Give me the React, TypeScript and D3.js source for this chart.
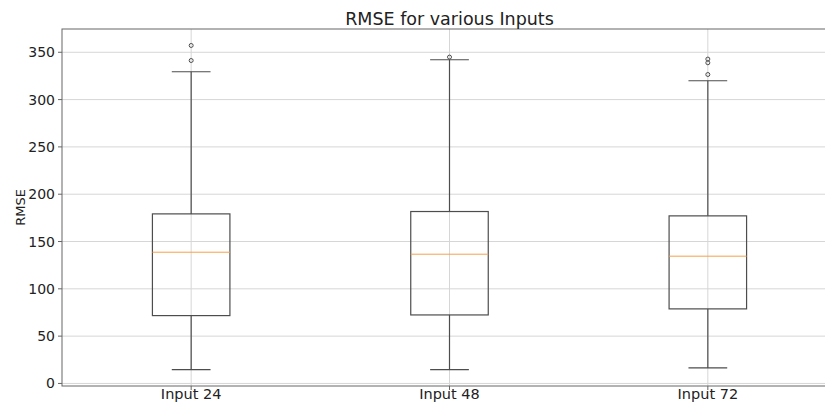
import React from "react";
import * as d3 from "d3";

// box statistics
const categories = ["Input 24", "Input 48", "Input 72"];
const whiskerLow = [14.6, 14.6, 16.4];
const q1 = [71.7, 72.4, 78.8];
const medians = [138.7, 136.6, 134.5];
const q3 = [179.2, 181.7, 177.1];
const whiskerHigh = [329.4, 342.1, 319.9];
const outliers = [[357.2, 341.3], [344.9], [342.8, 338.9, 326.5]];
const yTicks = [0, 50, 100, 150, 200, 250, 300, 350];

const width = 825;
const height = 405;
const margin = { top: 29, right: -12, bottom: 19, left: 62 };

const font = "DejaVu Sans, sans-serif";
const boxColor = "#4d4d4d";
const gridColor = "#d6d6d6";

const App = () => {
  const x = d3
    .scaleLinear()
    .domain([0.5, 3.5])
    .range([margin.left, width - margin.right]);
  const y = d3
    .scaleLinear()
    .domain([-2.7, 374.6])
    .range([height - margin.bottom, margin.top]);

  const boxW = x(1.3) - x(1);
  const capW = boxW / 2;
  const plotBottom = height - margin.bottom;
  const plotRight = width - margin.right;

  return (
    <svg
      width={width}
      height={height}
      style={{ position: "absolute", left: 0, top: 0, background: "#fff" }}
      fontFamily={font}
    >
      {/* grid */}
      <g stroke={gridColor} strokeWidth={1}>
        {yTicks.map((t) => (
          <line key={t} x1={margin.left} x2={plotRight} y1={y(t)} y2={y(t)} />
        ))}
        {categories.map((c, i) => (
          <line key={c} x1={x(i + 1)} x2={x(i + 1)} y1={margin.top} y2={plotBottom} />
        ))}
      </g>

      {/* boxes */}
      {categories.map((c, i) => {
        const cx = x(i + 1);
        return (
          <g key={c} stroke={boxColor} strokeWidth={1.2} fill="none">
            <rect x={cx - boxW / 2} y={y(q3[i])} width={boxW} height={y(q1[i]) - y(q3[i])} />
            <line x1={cx} x2={cx} y1={y(q3[i])} y2={y(whiskerHigh[i])} />
            <line x1={cx} x2={cx} y1={y(q1[i])} y2={y(whiskerLow[i])} />
            <line x1={cx - capW / 2} x2={cx + capW / 2} y1={y(whiskerHigh[i])} y2={y(whiskerHigh[i])} />
            <line x1={cx - capW / 2} x2={cx + capW / 2} y1={y(whiskerLow[i])} y2={y(whiskerLow[i])} />
            <line
              x1={cx - boxW / 2}
              x2={cx + boxW / 2}
              y1={y(medians[i])}
              y2={y(medians[i])}
              stroke="#f5a04a"
              strokeWidth={1}
            />
            {outliers[i].map((o, j) => (
              <circle key={j} cx={cx} cy={y(o)} r={2} strokeWidth={1} />
            ))}
          </g>
        );
      })}

      {/* frame */}
      <rect
        x={margin.left}
        y={margin.top}
        width={plotRight - margin.left}
        height={plotBottom - margin.top}
        fill="none"
        stroke="#666"
        strokeWidth={1}
      />

      {/* y axis */}
      <g fontSize={14} fill="#222">
        {yTicks.map((t) => (
          <g key={t}>
            <line x1={margin.left - 4} x2={margin.left} y1={y(t)} y2={y(t)} stroke="#666" />
            <text x={margin.left - 7} y={y(t)} textAnchor="end" dominantBaseline="central">
              {t}
            </text>
          </g>
        ))}
      </g>
      <text
        transform={`translate(20,${(margin.top + plotBottom) / 2}) rotate(-90)`}
        textAnchor="middle"
        dominantBaseline="central"
        fontSize={13}
        fill="#222"
      >
        RMSE
      </text>

      {/* x axis */}
      <g fontSize={14.5} fill="#222">
        {categories.map((c, i) => (
          <g key={c}>
            <line x1={x(i + 1)} x2={x(i + 1)} y1={plotBottom} y2={plotBottom + 4} stroke="#666" />
            <text x={x(i + 1)} y={plotBottom + 13} textAnchor="middle">
              {c}
            </text>
          </g>
        ))}
      </g>

      <text
        x={(margin.left + plotRight) / 2}
        y={25}
        textAnchor="middle"
        fontSize={17.5}
        fill="#222"
      >
        RMSE for various Inputs
      </text>
    </svg>
  );
};

export default App;
